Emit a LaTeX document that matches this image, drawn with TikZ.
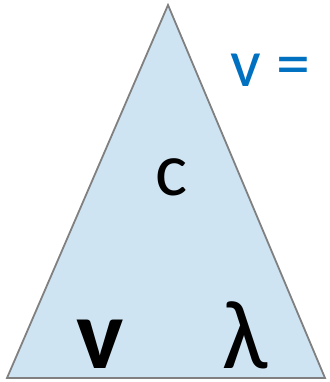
\documentclass[tikz,border=0pt]{standalone}
\usepackage{fontspec}
\setmainfont{Carlito}
\definecolor{trifill}{RGB}{207,228,243}
\definecolor{triline}{RGB}{128,128,128}
\definecolor{eqblue}{RGB}{0,112,192}
\begin{document}
\begin{tikzpicture}[x=1pt,y=-1pt,
  lbl/.style={inner sep=0pt,anchor=base,text depth=0pt}]
\useasboundingbox (0,0) rectangle (329,382);
\coordinate (apex) at (168,5);
\coordinate (bl) at (7,378);
\coordinate (br) at (325,378);
\draw[fill=trifill,draw=triline,line width=1.8pt,line join=miter] (apex) -- (br) -- (bl) -- cycle;
\node[lbl,font=\fontsize{76}{80}\selectfont] (c) at (172,195) {c};
\node[lbl,font=\fontsize{100}{104}\selectfont\bfseries] (v) at (100,368) {v};
\node[lbl,font=\fontsize{98}{104}\selectfont] (lam) at (245,368) {λ};
\node[lbl,font=\fontsize{68}{72}\selectfont,text=eqblue] (eq) at (270,87) {v =};
\end{tikzpicture}
\end{document}
